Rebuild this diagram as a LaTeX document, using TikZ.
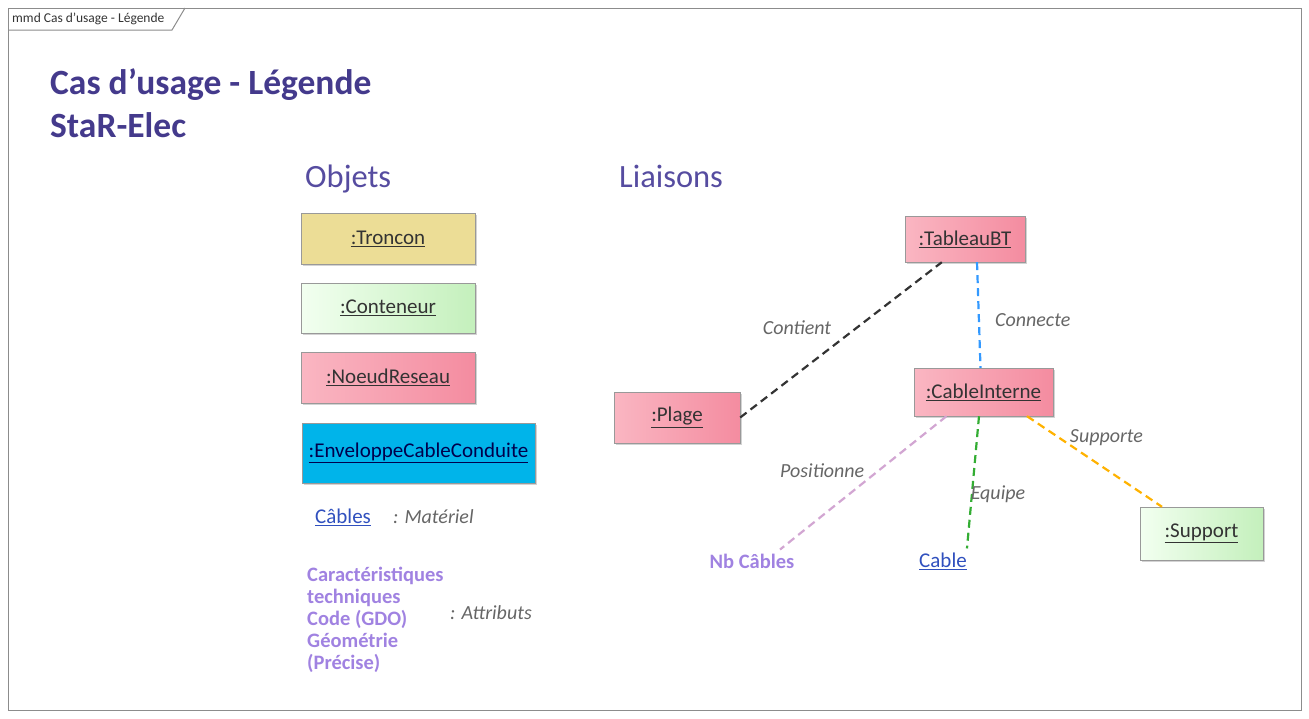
\documentclass[tikz,border=0pt]{standalone}
\usepackage{fontspec}
\setmainfont{Carlito}
\usetikzlibrary{calc, positioning, shadows}
\definecolor{titre}{RGB}{68,58,140}
\definecolor{rubrique}{RGB}{86,76,160}
\definecolor{kaki}{RGB}{236,221,150}
\definecolor{vertclair}{RGB}{242,255,240}
\definecolor{vertfonce}{RGB}{196,240,188}
\definecolor{rose}{RGB}{250,182,194}
\definecolor{rosefonce}{RGB}{244,140,160}
\definecolor{bleuCyan}{RGB}{0,180,234}
\definecolor{lavande}{RGB}{160,130,225}
\definecolor{lienbleu}{RGB}{48,80,190}
\tikzset{
	objet/.style={draw=black!40, inner sep=0pt, text=black!80, font=\fontsize{21}{24}\selectfont,
		drop shadow={shadow xshift=2pt, shadow yshift=-2pt, opacity=0.35}},
	lien/.style={dashed, line width=2.2pt, dash pattern=on 8pt off 5pt},
	etiq/.style={text=black!60, font=\fontsize{20}{24}\selectfont\itshape},
}

\begin{document}
\begin{tikzpicture}[x=1pt, y=-1pt]
		\useasboundingbox (0,0) rectangle (1309,718);
		\draw[black!45, line width=1pt] (8,8) rectangle (1301,710);
		\draw[black!45, line width=1pt] (8,30) -- (172,30) -- (185,8);
		\node[anchor=west, font=\fontsize{13.5}{15}\selectfont, text=black!80, inner sep=0pt] (cadre) at (12,19) {mmd Cas d'usage - Légende};

		\node[anchor=west, inner sep=0pt, text=titre, font=\fontsize{35.5}{40}\selectfont\bfseries] (titre) at (50,85) {Cas d'usage - Légende};
		\node[anchor=west, inner sep=0pt, text=titre, font=\fontsize{35.5}{40}\selectfont\bfseries] (sousTitre) at (50,125) {StaR-Elec};

		\node[anchor=base west, inner sep=0pt, text=rubrique, font=\fontsize{32.5}{36}\selectfont] (objets) at (305,187) {Objets};
		\node[anchor=base west, inner sep=0pt, text=rubrique, font=\fontsize{32.5}{36}\selectfont] (liaisons) at (619,187) {Liaisons};

		\node[objet, fill=kaki, minimum width=174pt, minimum height=51pt] (troncon) at (388,238.5) {\underline{:Troncon}};
		\node[objet, shading=axis, left color=vertclair, right color=vertfonce, minimum width=174pt, minimum height=50pt] (conteneur) at (388,308) {\underline{:Conteneur}};
		\node[objet, shading=axis, left color=rose, right color=rosefonce, minimum width=174pt, minimum height=51pt] (noeud) at (388,377.5) {\underline{:NoeudReseau}};
		\node[objet, fill=bleuCyan, text=black!70!blue, minimum width=233pt, minimum height=60pt] (enveloppe) at (418.5,453) {\underline{:EnveloppeCableConduite}};

		\node[anchor=west, inner sep=0pt, text=lienbleu, font=\fontsize{21}{24}\selectfont] (cables) at (315,517) {\underline{Câbles}};
		\node[anchor=west, inner sep=0pt, etiq] (materiel) at (393,517) {: Matériel};
		\node[anchor=west, align=left, inner sep=0pt, text=lavande, font=\fontsize{20.5}{22}\selectfont\bfseries] (attributs) at (307,620) {Caractéristiques\\techniques\\Code (GDO)\\Géométrie\\(Précise)};
		\node[anchor=west, inner sep=0pt, etiq] (attrib) at (450,613) {: Attributs};

		\node[objet, shading=axis, left color=rose, right color=rosefonce, minimum width=120pt, minimum height=46pt] (tableau) at (965,239) {\underline{:TableauBT}};
		\node[objet, shading=axis, left color=rose, right color=rosefonce, minimum width=139pt, minimum height=48pt] (cableInt) at (983.5,392) {\underline{:CableInterne}};
		\node[objet, shading=axis, left color=rose, right color=rosefonce, minimum width=126pt, minimum height=51pt] (plage) at (677,417.5) {\underline{:Plage}};
		\node[objet, shading=axis, left color=vertclair, right color=vertfonce, minimum width=123pt, minimum height=53pt] (support) at (1201.5,533.5) {\underline{:Support}};
		\node[inner sep=0pt, text=lavande, font=\fontsize{20.5}{24}\selectfont\bfseries] (nbCables) at (752,561) {Nb Câbles};
		\node[inner sep=0pt, text=lienbleu, font=\fontsize{21}{24}\selectfont] (cable) at (943,561) {\underline{Cable}};
		\coordinate (finPos) at ($(nbCables.north)+(28,-4)$);

		\draw[lien, black!80] (plage.east) -- (tableau.225) node[etiq, pos=0.5, shift={(-44,-12)}] {Contient};
		\draw[lien, blue!50!cyan!80] ($(tableau.south)+(12,0)$) -- ($(cableInt.north)+(-3,0)$) node[etiq, midway, shift={(54,5)}] {Connecte};
		\draw[lien, violet!35] ($(cableInt.south)+(-37,0)$) -- (finPos) node[etiq, midway, shift={(-41,-12)}] {Positionne};
		\draw[lien, green!60!black!80] ($(cableInt.south)+(-4.5,0)$) -- ($(cable.north east)+(0,-4)$) node[etiq, midway, shift={(25,12)}] {Equipe};
		\draw[lien, orange!60!yellow] ($(cableInt.south)+(43.5,0)$) -- ($(support.north)+(-39.5,0)$) node[etiq, midway, shift={(12,-24)}] {Supporte};
	\end{tikzpicture}
\end{document}
